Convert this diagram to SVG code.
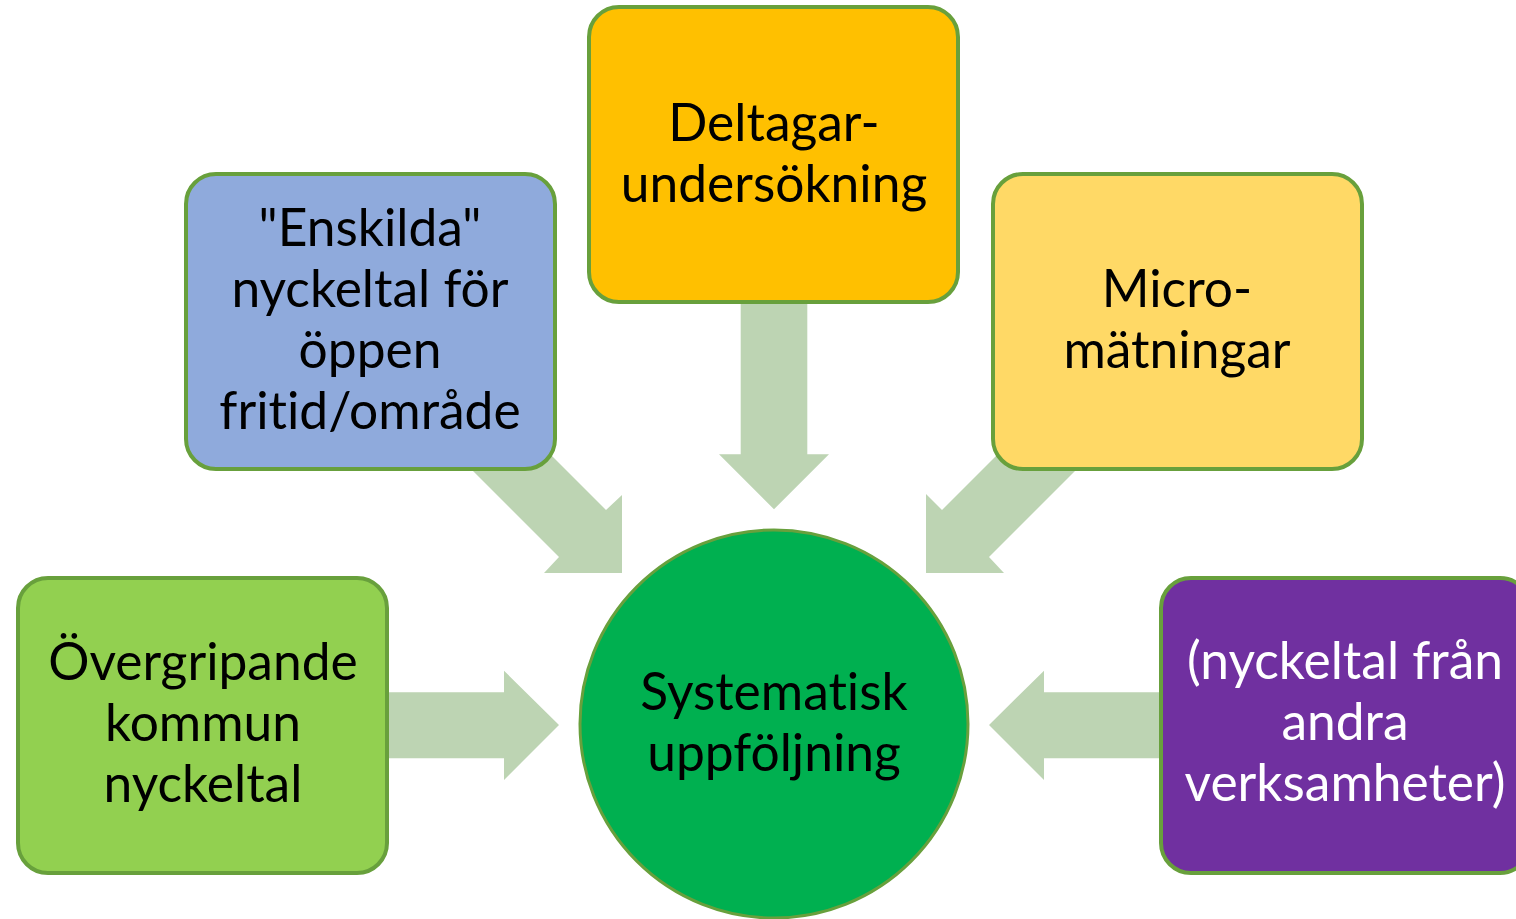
<svg xmlns="http://www.w3.org/2000/svg" width="1516" height="919" viewBox="0 0 1516 919">
<style>
.box{stroke:#68A03C;stroke-width:4}
.circ{stroke:#68A03C;stroke-width:3}
.arr{fill:#BDD4B3}
text{font-family:Lato,"Liberation Sans",sans-serif;font-size:51.5px;text-anchor:middle;fill:#000;font-variant-ligatures:none;font-feature-settings:"liga" 0}
.w{fill:#fff}
</style>
<rect width="1516" height="919" fill="#fff"/>
<g id="connectors">
<polygon class="arr" points="740.7,300 807.3,300 807.3,454.3 829,454.3 774,509.3 719,454.3 740.7,454.3"/>
<polygon class="arr" points="385,692.3 504,692.3 504,670.7 559,725 504,780 504,758.3 385,758.3"/>
<polygon class="arr" points="1165,692.3 1044,692.3 1044,670.7 989,725 1044,780 1044,758.3 1165,758.3"/>
<polygon class="arr" points="470,468 517,421 606,510 622,495 622,573 544,573 559,557"/>
<polygon class="arr" points="1078,468 1031,421 942,510 926,494 926,573 1004,573 989,557"/>
</g>
<g id="node-enskilda">
<rect class="box" x="186" y="174" width="369" height="295" rx="30" fill="#8FAADC"/>
<text x="370" y="246">"Enskilda"</text>
<text x="370" y="307">nyckeltal för</text>
<text x="370" y="368">öppen</text>
<text x="370" y="429">fritid/område</text>
</g>
<g id="node-deltagar">
<rect class="box" x="589" y="7" width="369" height="295" rx="30" fill="#FFC000"/>
<text x="774" y="141">Deltagar-</text>
<text x="774" y="202">undersökning</text>
</g>
<g id="node-micro">
<rect class="box" x="993" y="174" width="369" height="295" rx="30" fill="#FFD966"/>
<text x="1177" y="307">Micro-</text>
<text x="1177" y="368">mätningar</text>
</g>
<g id="node-overgripande">
<rect class="box" x="18" y="578" width="369" height="295" rx="30" fill="#92D050"/>
<text x="203" y="680">Övergripande</text>
<text x="203" y="741">kommun</text>
<text x="203" y="802">nyckeltal</text>
</g>
<g id="node-andra">
<rect class="box" x="1161" y="578" width="369" height="295" rx="30" fill="#7030A0"/>
<text class="w" x="1345" y="679">(nyckeltal från</text>
<text class="w" x="1345" y="740">andra</text>
<text class="w" x="1345" y="801">verksamheter)</text>
</g>
<g id="node-systematisk">
<circle class="circ" cx="774" cy="724" r="194" fill="#00B050"/>
<text x="774" y="710">Systematisk</text>
<text x="774" y="771">uppföljning</text>
</g>
</svg>
